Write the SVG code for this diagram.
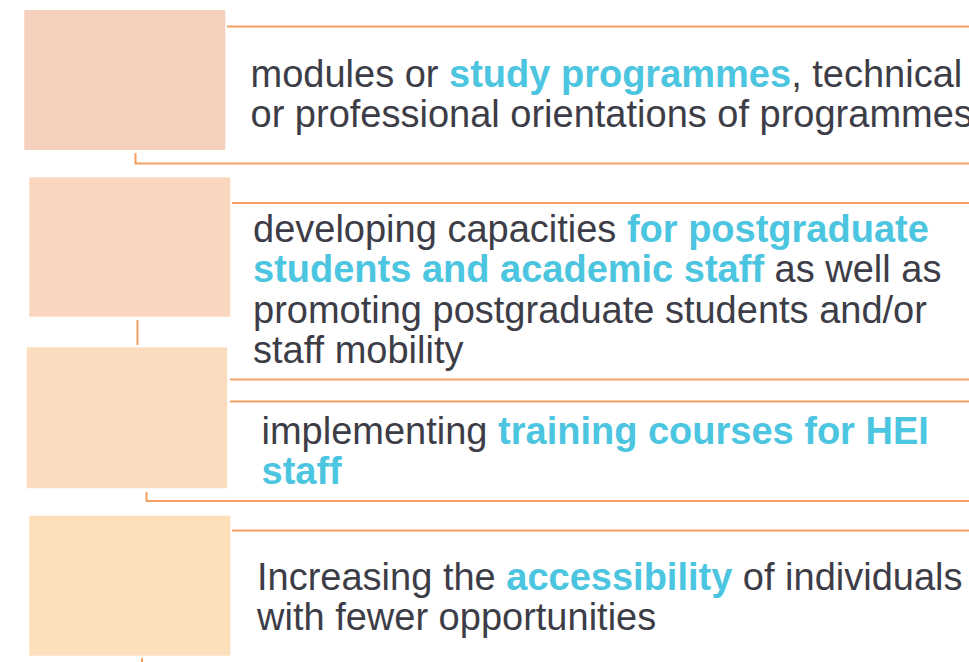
<svg xmlns="http://www.w3.org/2000/svg" width="969" height="662" viewBox="0 0 969 662">
<style>
.t{font-family:"Liberation Sans",Arial,sans-serif;font-size:38px;fill:#3d3d47}
.hl{font-weight:bold;fill:#4cc5e0}
.ln{fill:none;stroke:#f5a063;stroke-width:2}
</style>
<rect width="969" height="662" fill="#ffffff"/>
<g id="connectors">
<path class="ln" d="M227 26.5H969"/>
<path class="ln" d="M135.5 153V163.5H969"/>
<path class="ln" d="M232 203H969"/>
<path class="ln" d="M137.5 320V345"/>
<path class="ln" d="M230 379.5H969"/>
<path class="ln" d="M230 401.5H969"/>
<path class="ln" d="M146.5 492V501H969"/>
<path class="ln" d="M232 530.5H969"/>
<path class="ln" d="M142 658V662"/>
</g>
<g id="node1">
<rect x="24.3" y="10" width="201" height="140" fill="#f5d0bd"/>
<text class="t" x="250.5" y="87"><tspan>modules or </tspan><tspan class="hl">study programmes</tspan><tspan>, technical</tspan></text>
<text class="t" x="250.5" y="127">or professional orientations of programmes</text>
</g>
<g id="node2">
<rect x="29.3" y="177.3" width="201" height="139.4" fill="#f9d6bd"/>
<text class="t" x="253" y="242"><tspan>developing capacities </tspan><tspan class="hl">for postgraduate</tspan></text>
<text class="t" x="253" y="282.3"><tspan class="hl">students and academic staff</tspan><tspan> as well as</tspan></text>
<text class="t" x="253" y="322.6">promoting postgraduate students and/or</text>
<text class="t" x="253" y="362.9">staff mobility</text>
</g>
<g id="node3">
<rect x="26.7" y="347.3" width="200.6" height="141" fill="#fcdcbf"/>
<text class="t" x="261.5" y="444"><tspan>implementing </tspan><tspan class="hl">training courses for HEI</tspan></text>
<text class="t" x="261.5" y="483.5"><tspan class="hl">staff</tspan></text>
</g>
<g id="node4">
<rect x="29.3" y="515.7" width="201" height="140" fill="#fde0bb"/>
<text class="t" x="257" y="590"><tspan>Increasing the </tspan><tspan class="hl">accessibility</tspan><tspan> of individuals</tspan></text>
<text class="t" x="257" y="630">with fewer opportunities</text>
</g>
</svg>
